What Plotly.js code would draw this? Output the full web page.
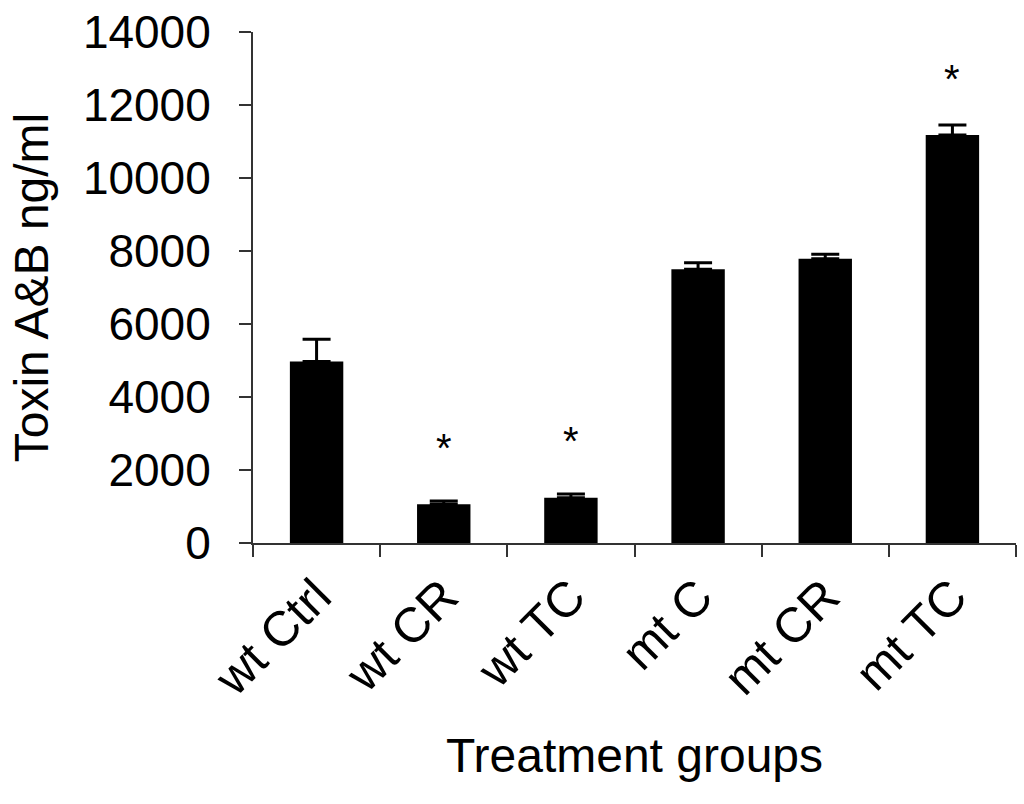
<!DOCTYPE html>
<html>
<head>
<meta charset="utf-8">
<script src="https://cdn.plot.ly/plotly-3.0.1.min.js"></script>
<style>
html,body{margin:0;padding:0;background:#fff;}
#chart{width:1024px;height:804px;}
</style>
</head>
<body>
<div id="chart"></div>
<script>
const categories = ["wt Ctrl", "wt CR", "wt TC", "mt C", "mt CR", "mt TC"];
const toxinValues = [4970, 1060, 1240, 7500, 7790, 11180];
const toxinErrors = [610, 90, 100, 180, 120, 275];
const starCategories = ["wt CR", "wt TC", "mt TC"];
const starValues = [2600, 2800, 12700];
const yTicks = [0, 2000, 4000, 6000, 8000, 10000, 12000, 14000];

const font = "Liberation Sans, Arial, sans-serif";

const trace = {
  type: "bar",
  x: categories,
  y: toxinValues,
  marker: {color: "#000000", line: {width: 0}},
  error_y: {type: "data", array: toxinErrors, symmetric: false, arrayminus: toxinErrors.map(() => 0),
            visible: true, color: "#000000", thickness: 3, width: 14},
  hoverinfo: "none"
};

const annotations = starCategories.map((c, i) => ({
  x: c, y: starValues[i], xref: "x", yref: "y", text: "*", showarrow: false,
  font: {family: font, size: 40, color: "#000"}, yanchor: "middle"
}));

const layout = {
  width: 1024, height: 804,
  margin: {l: 253, r: 8, t: 32, b: 261},
  paper_bgcolor: "#fff", plot_bgcolor: "#fff",
  showlegend: false,
  bargap: 0.58,
  font: {family: font, color: "#000"},
  xaxis: {
    type: "category",
    range: [-0.5, 5.5],
    tickangle: -45,
    tickfont: {family: font, size: 49, color: "#000"},
    showline: true, linecolor: "#333", linewidth: 2,
    ticks: "outside", ticklen: 12, tickwidth: 2, tickcolor: "#333",
    tickson: "boundaries",
    ticklabelstandoff: 3,
    showgrid: false, zeroline: false,
    title: {text: "Treatment groups", font: {family: font, size: 48, color: "#000"}, standoff: 34},
    automargin: false
  },
  yaxis: {
    range: [0, 14000],
    tickvals: yTicks,
    ticktext: yTicks.map(String),
    tickfont: {family: font, size: 46, color: "#000"},
    showline: true, linecolor: "#333", linewidth: 2,
    ticks: "outside", ticklen: 12, tickwidth: 2, tickcolor: "#333",
    ticklabelstandoff: 19,
    showgrid: false, zeroline: false,
    title: {text: "Toxin A&B ng/ml", font: {family: font, size: 48, color: "#000"}, standoff: 19},
    automargin: false
  },
  annotations: annotations
};

Plotly.newPlot("chart", [trace], layout, {displayModeBar: false, staticPlot: true});
</script>
</body>
</html>
